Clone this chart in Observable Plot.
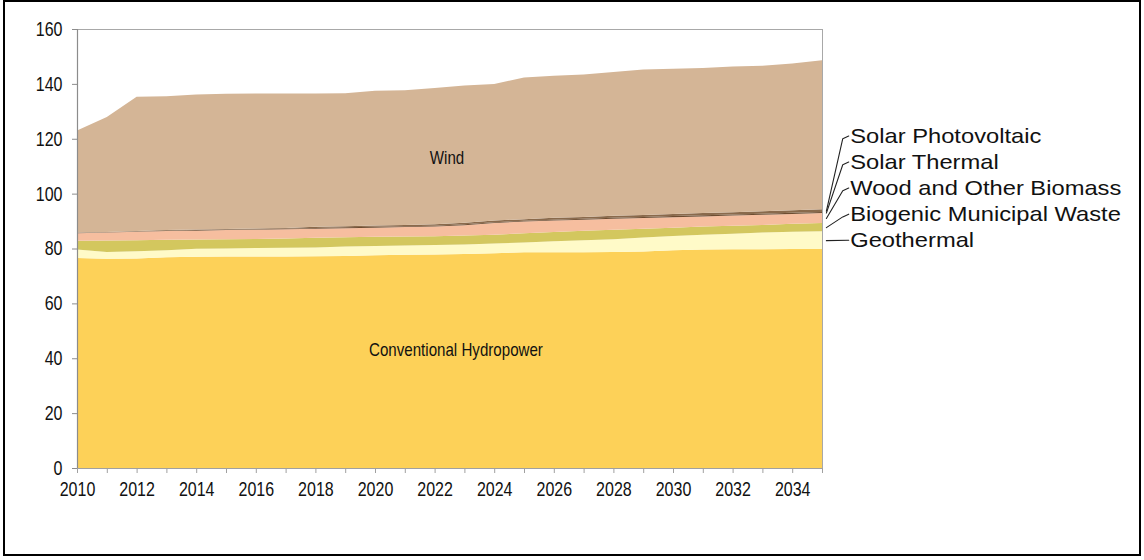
<!DOCTYPE html>
<html>
<head>
<meta charset="utf-8">
<script src="https://cdn.jsdelivr.net/npm/d3@7"></script>
<script src="https://cdn.jsdelivr.net/npm/@observablehq/plot@0.6"></script>
<style>
  html, body { margin: 0; padding: 0; background: #fff; }
  #wrap { position: relative; width: 1144px; height: 560px; overflow: hidden; }
  #border { position: absolute; left: 3px; top: 0px; width: 1138px; height: 556px; border: 2.5px solid #000; box-sizing: border-box; pointer-events: none; }
</style>
</head>
<body>
<div id="wrap"><div id="chart"></div><div id="border"></div></div>
<script>
// ---- data (GW) ----
const years = [2010,2011,2012,2013,2014,2015,2016,2017,2018,2019,2020,2021,2022,2023,2024,2025,2026,2027,2028,2029,2030,2031,2032,2033,2034,2035];
const hydro        = [76.5,76.3,76.4,76.8,77.0,77.1,77.1,77.1,77.2,77.3,77.5,77.7,77.8,78.0,78.3,78.6,78.6,78.6,78.7,78.9,79.4,79.6,79.7,79.7,79.8,79.8];
const geothermal   = [3.1,2.4,2.6,2.6,2.9,2.9,3.1,3.2,3.2,3.4,3.4,3.4,3.5,3.5,3.5,3.6,4.0,4.4,4.7,5.1,5.2,5.4,5.7,6.1,6.3,6.5];
const msw          = [3.2,4.2,4.0,3.8,3.4,3.4,3.3,3.3,3.5,3.4,3.4,3.3,3.2,3.2,3.2,3.4,3.4,3.5,3.4,3.2,3.0,3.0,2.9,2.8,2.9,3.0];
const wood         = [2.8,2.9,3.1,3.2,3.2,3.3,3.3,3.4,3.3,3.3,3.3,3.4,3.5,3.8,4.3,4.2,4.2,4.0,4.0,3.9,3.8,3.7,3.7,3.7,3.6,3.6];
const solarThermal = [0.1,0.1,0.1,0.1,0.2,0.2,0.2,0.2,0.3,0.3,0.3,0.3,0.3,0.3,0.3,0.3,0.3,0.3,0.4,0.4,0.4,0.4,0.4,0.4,0.4,0.4];
const solarPV      = [0.1,0.1,0.2,0.2,0.2,0.2,0.3,0.3,0.4,0.4,0.5,0.5,0.5,0.6,0.6,0.6,0.7,0.7,0.7,0.7,0.8,0.8,0.8,0.9,0.9,1.0];
const wind         = [37.2,41.9,48.9,48.8,49.2,49.3,49.2,49.0,48.6,48.5,49.1,49.1,49.7,50.0,49.8,51.6,51.8,51.9,52.4,53.0,52.9,52.9,53.1,53.0,53.5,54.3];

const seriesNames = ["Conventional Hydropower","Geothermal","Biogenic Municipal Waste","Wood and Other Biomass","Solar Thermal","Solar Photovoltaic","Wind"];
const seriesValues = [hydro, geothermal, msw, wood, solarThermal, solarPV, wind];
const seriesColors = ["#FDD158","#FFFAC8","#D3C75E","#F6BE9F","#6E4D31","#8A6A4C","#D4B596"];
const yTicks = [0,20,40,60,80,100,120,140,160];
const xTickLabels = [2010,2012,2014,2016,2018,2020,2022,2024,2026,2028,2030,2032,2034];
const rightLabels = ["Solar Photovoltaic","Solar Thermal","Wood and Other Biomass","Biogenic Municipal Waste","Geothermal"];
const insideLabels = ["Wind","Conventional Hydropower"];

// ---- build long table ----
const rows = [];
seriesNames.forEach((s, i) => years.forEach((yr, j) => rows.push({year: yr, series: s, value: seriesValues[i][j]})));

// band midpoints at the last year, for leader lines
const last = years.length - 1;
const mids = {};
let cum = 0;
seriesNames.forEach((s, i) => { const v = seriesValues[i][last]; mids[s] = cum + v / 2; cum += v; });

// layout for right-hand labels (in data units)
const labelY = {"Solar Photovoltaic":121.2, "Solar Thermal":111.7, "Wood and Other Biomass":102.2, "Biogenic Municipal Waste":92.7, "Geothermal":83.2};
const lastYear = years[last];
const leaderRows = [];
rightLabels.forEach(s => {
  const ly = labelY[s];
  leaderRows.push({s, x: lastYear + 0.13, y: mids[s]});
  if (s !== "Geothermal") leaderRows.push({s, x: lastYear + 0.68, y: ly - 1.0});
  leaderRows.push({s, x: lastYear + 0.88, y: ly});
});
const labelRows = rightLabels.map(s => ({s, x: lastYear + 0.93, y: labelY[s]}));
const insideRows = [
  {t: insideLabels[0], x: 2022.4, y: 113},
  {t: insideLabels[1], x: 2022.7, y: 43}
];

const sans = "'Liberation Sans',Arial,sans-serif";

const chart = Plot.plot({
  width: 1144,
  height: 560,
  marginLeft: 77,
  marginRight: 322,
  marginTop: 29,
  marginBottom: 92,
  style: {fontFamily: sans, fontSize: "18px", color: "#111", background: "transparent", overflow: "visible"},
  x: {type: "linear", domain: [2010, 2035]},
  y: {domain: [0, 160]},
  color: {domain: seriesNames, range: seriesColors},
  marks: [
    Plot.areaY(rows, {x: "year", y: "value", z: "series", fill: "series", order: seriesNames}),
    Plot.frame({stroke: "#a8a8a8", strokeWidth: 1}),
    Plot.ruleX([2010], {stroke: "#8c8c8c", strokeWidth: 1.2}),
    Plot.ruleY([0], {stroke: "#a0a0a0", strokeWidth: 1.2}),
    Plot.axisY({ticks: yTicks, tickSize: 5, tickPadding: 10, label: null, stroke: "#8c8c8c", fontSize: 20, fontFamily: sans, fill: "#111"}),
    Plot.axisX({ticks: years, tickSize: 5, tickPadding: 8, label: null, stroke: "#a0a0a0",
      tickFormat: d => xTickLabels.includes(d) ? String(d) : "", fontSize: 20, fontFamily: sans, fill: "#111"}),
    Plot.text(insideRows, {x: "x", y: "y", text: "t", fontFamily: sans, fontSize: 18, fill: "#111"}),
    Plot.line(leaderRows, {x: "x", y: "y", z: "s", stroke: "#222", strokeWidth: 1.1, clip: false}),
    Plot.text(labelRows, {x: "x", y: "y", text: "s", textAnchor: "start", fontFamily: sans, fontSize: 21, fill: "#111"})
  ]
});
document.getElementById("chart").appendChild(chart);

// condensed look for axis/inside text, wider look for right-hand labels
function scaleText(t, sx) {
  const tr = t.getAttribute("transform");
  if (tr) t.setAttribute("transform", tr + ` scale(${sx},1)`);
  else {
    const x = +t.getAttribute("x") || 0, y = +t.getAttribute("y") || 0;
    t.setAttribute("transform", `translate(${x},${y}) scale(${sx},1) translate(${-x},${-y})`);
  }
}
chart.querySelectorAll("text").forEach(t => {
  const s = t.textContent.trim();
  if (rightLabels.includes(s)) scaleText(t, 1.13);
  else if (insideLabels.includes(s)) scaleText(t, 0.84);
  else if (/^\d+$/.test(s)) scaleText(t, 0.8);
});
</script>
</body>
</html>
